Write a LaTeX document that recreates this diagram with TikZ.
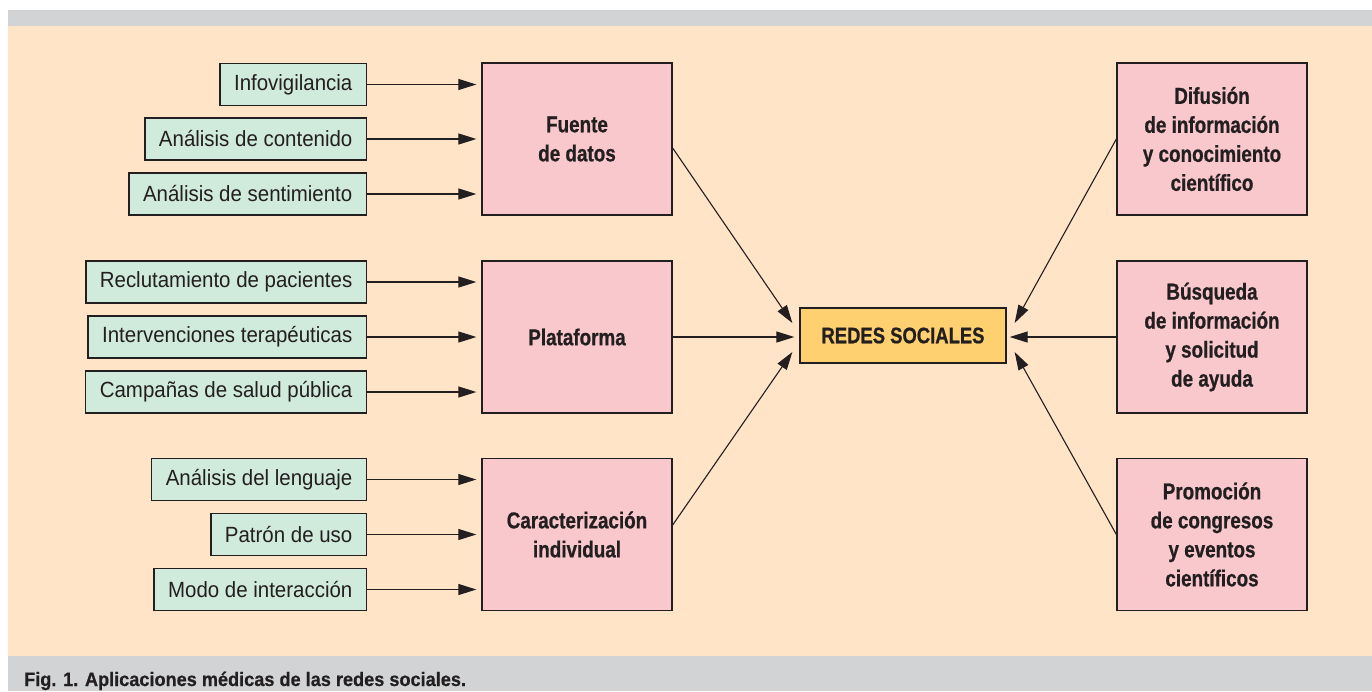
\documentclass[tikz,border=0pt]{standalone}
\usepackage{fontspec}
\setmainfont{Liberation Sans}
\newfontfamily\condfont{Liberation Sans}[FakeStretch=0.82, BoldFeatures={FakeBold=0.7}]
\newfontfamily\semifont{Liberation Sans}[FakeStretch=0.93, BoldFeatures={FakeBold=0.5}]
\usetikzlibrary{arrows.meta}
\definecolor{peach}{RGB}{255,228,200}
\definecolor{band}{RGB}{209,211,212}
\definecolor{pinkbox}{RGB}{249,200,204}
\definecolor{greenbox}{RGB}{208,234,220}
\definecolor{orangebox}{RGB}{255,208,112}
\definecolor{ink}{RGB}{35,31,32}
\tikzset{
  greenstyle/.style={draw=ink, line width=1.3pt, fill=greenbox, anchor=east,
    minimum height=42pt, inner xsep=14pt, inner ysep=0pt, text=ink,
    font=\semifont\fontsize{22}{24}\selectfont},
  pinkstyle/.style={draw=ink, line width=1.3pt, fill=pinkbox, minimum width=190pt,
    minimum height=152pt, align=center, text=ink,
    font=\condfont\bfseries\fontsize{23}{29}\selectfont},
  redesstyle/.style={draw=ink, line width=1.3pt, fill=orangebox, minimum width=206pt,
    minimum height=55pt, text=ink, font=\condfont\bfseries\fontsize{22.5}{29}\selectfont},
  arr/.style={draw=ink, line width=1.1pt, -{Triangle[length=18pt,width=11pt]}},
}
\begin{document}
\begin{tikzpicture}[x=1pt,y=-1pt]
\useasboundingbox (0,0) rectangle (1372,691);
\fill[white] (0,0) rectangle (1372,691);
\fill[band] (8,10) rectangle (1372,26);
\fill[peach] (8,26) rectangle (1372,656);
\fill[band] (8,656) rectangle (1372,691);
\node[anchor=base west, inner sep=0pt, text=ink, font=\semifont\bfseries\fontsize{19.5}{22}\selectfont] (cap) at (24,686) {Fig. 1. Aplicaciones médicas de las redes sociales.};

% pink boxes
\node[pinkstyle] (fuente) at (577,139) {Fuente\\de datos};
\node[pinkstyle] (plat) at (577,337) {Plataforma};
\node[pinkstyle] (carac) at (577,534.5) {Caracterización\\individual};
\node[pinkstyle] (difu) at (1212,139) {Difusión\\de información\\y conocimiento\\científico};
\node[pinkstyle] (busq) at (1212,337) {Búsqueda\\de información\\y solicitud\\de ayuda};
\node[pinkstyle] (promo) at (1212,534.5) {Promoción\\de congresos\\y eventos\\científicos};
\node[redesstyle] (redes) at (903,335.5) {REDES SOCIALES};

% green boxes
\node[greenstyle] (g1) at (367,84.5) {Infovigilancia};
\node[greenstyle] (g2) at (367,139) {Análisis de contenido};
\node[greenstyle] (g3) at (367,194) {Análisis de sentimiento};
\node[greenstyle] (g4) at (367,282) {Reclutamiento de pacientes};
\node[greenstyle] (g5) at (367,337) {Intervenciones terapéuticas};
\node[greenstyle] (g6) at (367,392) {Campañas de salud pública};
\node[greenstyle] (g7) at (367,479.5) {Análisis del lenguaje};
\node[greenstyle] (g8) at (367,534.5) {Patrón de uso};
\node[greenstyle] (g9) at (367,589.5) {Modo de interacción};

% green arrows
\foreach \g/\p in {g1/fuente,g2/fuente,g3/fuente,g4/plat,g5/plat,g6/plat,g7/carac,g8/carac,g9/carac}
  \draw[arr] (\g.east) -- ([xshift=-5pt]\g.east -| \p.west);

% arrows to redes
\draw[arr] ([shift={(0,9)}]fuente.east) -- ([shift={(-7,-12.5)}]redes.west);
\draw[arr] (plat.east) -- ([shift={(-5,1.5)}]redes.west);
\draw[arr] ([shift={(0,-9.5)}]carac.east) -- ([shift={(-7,16.5)}]redes.west);
\draw[arr] (difu.west) -- ([shift={(8,-12.5)}]redes.east);
\draw[arr] (busq.west) -- ([shift={(3,1.5)}]redes.east);
\draw[arr] (promo.west) -- ([shift={(8,16.5)}]redes.east);
\end{tikzpicture}
\end{document}
